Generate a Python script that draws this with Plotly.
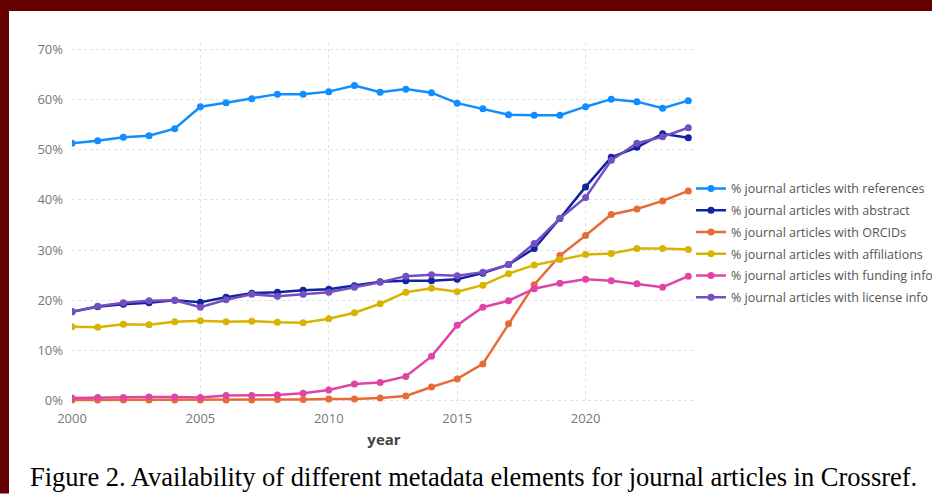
import plotly.graph_objects as go

years = list(range(2000, 2025))

references = [51.3, 51.8, 52.5, 52.8, 54.2, 58.6, 59.4, 60.2, 61.1, 61.1, 61.6, 62.8,
              61.5, 62.1, 61.4, 59.3, 58.2, 57.0, 56.9, 56.9, 58.6, 60.1, 59.6, 58.3, 59.8]
abstract = [17.7, 18.7, 19.2, 19.5, 20.0, 19.6, 20.6, 21.4, 21.6, 22.0, 22.2, 22.9,
            23.7, 23.9, 23.9, 24.2, 25.4, 27.1, 30.3, 36.3, 42.6, 48.5, 50.5, 53.2, 52.4]
orcids = [0.1, 0.1, 0.1, 0.1, 0.1, 0.1, 0.1, 0.1, 0.2, 0.2, 0.3, 0.3,
          0.5, 0.9, 2.7, 4.3, 7.3, 15.3, 23.1, 28.9, 32.9, 37.1, 38.2, 39.8, 41.8]
affiliations = [14.7, 14.6, 15.2, 15.1, 15.7, 15.9, 15.7, 15.8, 15.6, 15.5, 16.3, 17.5,
                19.3, 21.6, 22.4, 21.7, 23.0, 25.3, 27.0, 28.1, 29.1, 29.3, 30.3, 30.3, 30.1]
funding = [0.5, 0.6, 0.6, 0.7, 0.7, 0.6, 1.0, 1.0, 1.1, 1.45, 2.1, 3.3,
           3.6, 4.8, 8.8, 15.0, 18.6, 19.9, 22.3, 23.4, 24.2, 23.9, 23.3, 22.6, 24.8]
license = [17.7, 18.8, 19.5, 19.9, 20.0, 18.6, 20.1, 21.2, 20.8, 21.2, 21.6, 22.6,
           23.6, 24.8, 25.1, 24.9, 25.6, 27.1, 31.3, 36.3, 40.5, 47.9, 51.3, 52.6, 54.4]

names = ["% journal articles with references",
         "% journal articles with abstract",
         "% journal articles with ORCIDs",
         "% journal articles with affiliations",
         "% journal articles with funding info",
         "% journal articles with license info"]
series = [references, abstract, orcids, affiliations, funding, license]
colors = ["#118DFF", "#12239E", "#E66C37", "#D9B300", "#E044A7", "#744EC2"]

caption = "Figure 2. Availability of different metadata elements for journal articles in Crossref."

W, H = 932, 494
ML, MR = 72, W - 696
MT = 43
PB = 404.5
MB = H - PB
PW = W - ML - MR
PH = PB - MT

def px_x(p):
    return (p - ML) / PW

def px_y(p):
    return (PB - p) / PH

fig = go.Figure()
for i, (name, vals, col) in enumerate(zip(names, series, colors)):
    fig.add_trace(go.Scatter(
        x=years, y=vals, name=name, mode="lines+markers",
        legendgroup="g%d" % i,
        line=dict(color=col, width=2.5),
        marker=dict(color=col, size=7),
    ))

BORDER = "#650000"
fig.update_layout(
    width=W, height=H,
    margin=dict(l=ML, r=MR, t=MT, b=MB, autoexpand=False),
    paper_bgcolor="white",
    plot_bgcolor="white",
    font=dict(family="Open Sans, Noto Sans, sans-serif", color="#777777", size=13),
    xaxis=dict(range=[2000, 2024.3], tick0=2000, dtick=5, showgrid=True,
               gridcolor="#e2e2e2", griddash="dot", gridwidth=1, zeroline=False,
               showline=False, ticks="", ticklabelstandoff=5,
               tickfont=dict(size=13, color="#777777"),
               title=dict(text="<b>year</b>", font=dict(size=15, color="#444444"),
                          standoff=8)),
    yaxis=dict(range=[-0.7, 71.3], tick0=0, dtick=10, ticksuffix="%", showgrid=True,
               gridcolor="#e2e2e2", griddash="dot", gridwidth=1, zeroline=False,
               showline=False, ticks="", ticklabelstandoff=8,
               tickfont=dict(size=13, color="#777777")),
    legend=dict(x=px_x(691), y=px_y(174), xanchor="left", yanchor="top",
                bgcolor="rgba(0,0,0,0)", font=dict(size=12.5, color="#555555"),
                traceorder="grouped", tracegroupgap=2.5),
    showlegend=True,
    shapes=[
        dict(type="rect", xref="paper", yref="paper", layer="below",
             x0=px_x(0), x1=px_x(W), y0=px_y(0), y1=px_y(11),
             fillcolor=BORDER, line=dict(width=0)),
        dict(type="rect", xref="paper", yref="paper", layer="below",
             x0=px_x(0), x1=px_x(9), y0=px_y(0), y1=px_y(H),
             fillcolor=BORDER, line=dict(width=0)),
    ],
    annotations=[
        dict(text=caption, xref="paper", yref="paper", x=px_x(473), y=px_y(478),
             xanchor="center", yanchor="middle", showarrow=False,
             font=dict(family="Liberation Serif, Times New Roman, serif", size=26.5, color="#000000")),
    ],
)

fig.write_html("out.html", config={"displayModeBar": False},
               post_script="document.body.style.margin='0';document.body.style.overflow='hidden';")
